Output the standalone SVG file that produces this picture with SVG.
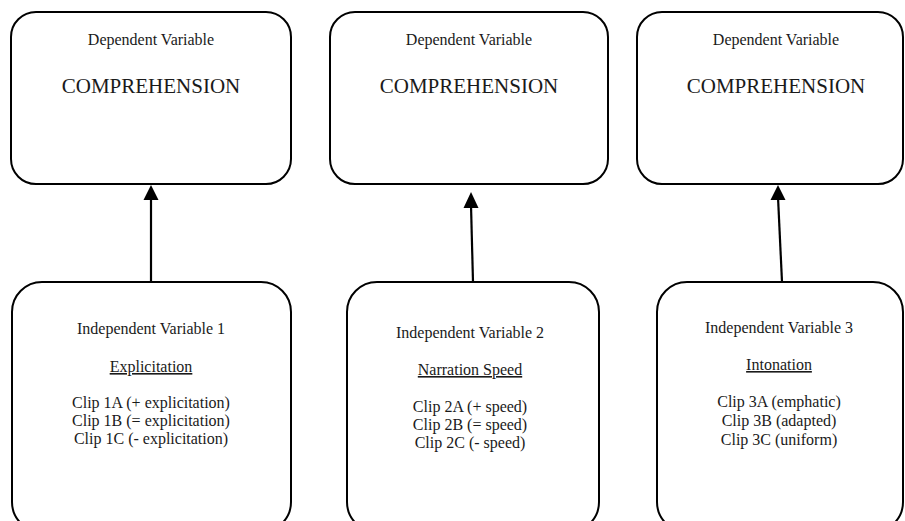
<svg xmlns="http://www.w3.org/2000/svg" width="905" height="521" viewBox="0 0 905 521">
  <defs>
    <style>
      .box { fill: #ffffff; stroke: #000000; stroke-width: 2; }
      .small { font-size: 16px; }
      .big { font-size: 21px; }
      .u { text-decoration: underline; }
      .link { stroke: #000000; stroke-width: 2.2; fill: none; }
      .head { fill: #000000; }
    </style>
  </defs>
  <rect x="0" y="0" width="905" height="521" fill="#ffffff"/>

  <g font-family="Liberation Serif, DejaVu Serif, serif" fill="#1a1a1a" text-anchor="middle">
  <!-- dependent variable boxes -->
  <g id="dv1">
    <rect class="box" x="11" y="12" width="280" height="172" rx="25" ry="25"/>
    <text class="small" x="151" y="45">Dependent Variable</text>
    <text class="big" x="151" y="93">COMPREHENSION</text>
  </g>
  <g id="dv2">
    <rect class="box" x="330" y="12" width="278" height="172" rx="25" ry="25"/>
    <text class="small" x="469" y="45">Dependent Variable</text>
    <text class="big" x="469" y="93">COMPREHENSION</text>
  </g>
  <g id="dv3">
    <rect class="box" x="637" y="12" width="266" height="172" rx="25" ry="25"/>
    <text class="small" x="776" y="45">Dependent Variable</text>
    <text class="big" x="776" y="93">COMPREHENSION</text>
  </g>

  <!-- independent variable boxes -->
  <g id="iv1">
    <rect class="box" x="12" y="282" width="279" height="250" rx="30" ry="30"/>
    <text class="small" x="151" y="334">Independent Variable 1</text>
    <text class="small u" x="151" y="372">Explicitation</text>
    <text class="small" x="151" y="408">Clip 1A (+ explicitation)</text>
    <text class="small" x="151" y="426">Clip 1B (= explicitation)</text>
    <text class="small" x="151" y="444">Clip 1C (- explicitation)</text>
  </g>
  <g id="iv2">
    <rect class="box" x="347" y="282" width="252" height="250" rx="30" ry="30"/>
    <text class="small" x="470" y="338">Independent Variable 2</text>
    <text class="small u" x="470" y="375">Narration Speed</text>
    <text class="small" x="470" y="412">Clip 2A (+ speed)</text>
    <text class="small" x="470" y="430">Clip 2B (= speed)</text>
    <text class="small" x="470" y="448">Clip 2C (- speed)</text>
  </g>
  <g id="iv3">
    <rect class="box" x="657" y="282" width="246" height="250" rx="30" ry="30"/>
    <text class="small" x="779" y="333">Independent Variable 3</text>
    <text class="small u" x="779" y="370">Intonation</text>
    <text class="small" x="779" y="407">Clip 3A (emphatic)</text>
    <text class="small" x="779" y="426">Clip 3B (adapted)</text>
    <text class="small" x="779" y="445">Clip 3C (uniform)</text>
  </g>
  </g>

  <!-- connectors -->
  <g id="connectors">
    <line class="link" x1="151" y1="282" x2="151" y2="197"/>
    <polygon class="head" points="151,185 143.5,200 158.5,200"/>
    <line class="link" x1="473" y1="282" x2="471" y2="205"/>
    <polygon class="head" points="471,192 463.5,208 478.5,208"/>
    <line class="link" x1="782" y1="282" x2="778" y2="197"/>
    <polygon class="head" points="778,185 770.5,200 785.5,200"/>
  </g>
</svg>
